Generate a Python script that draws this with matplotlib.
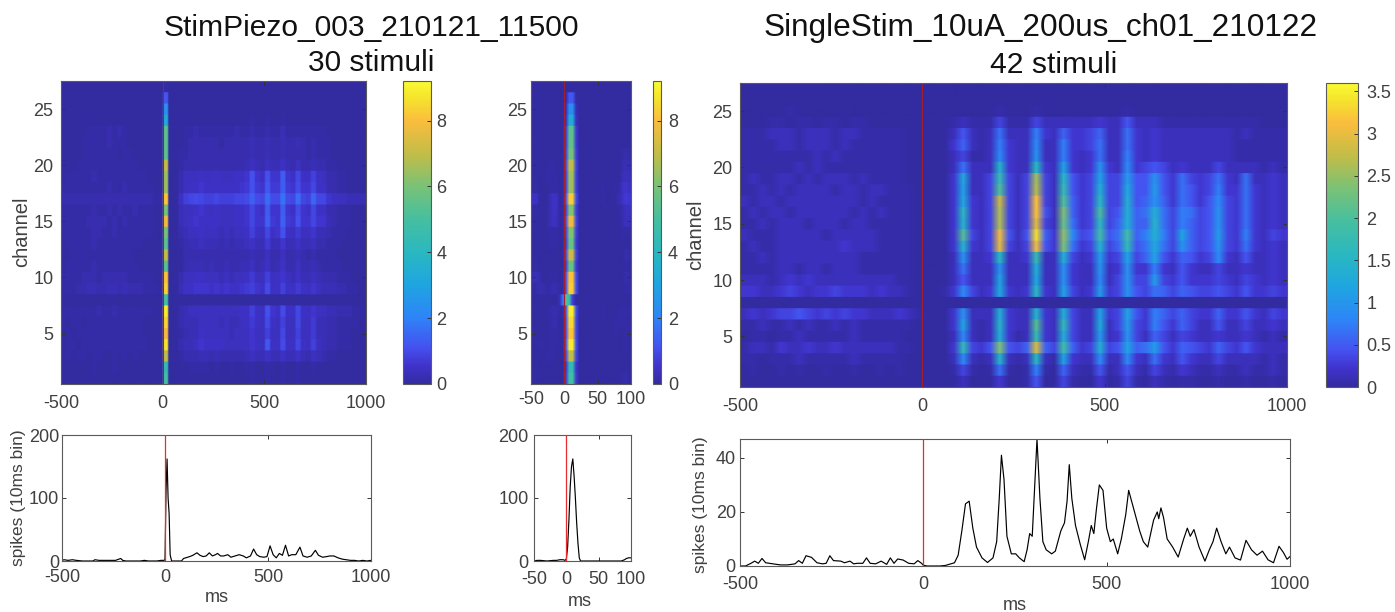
import numpy as np
import matplotlib
matplotlib.use("Agg")
import matplotlib.pyplot as plt
from matplotlib.colors import LinearSegmentedColormap

plt.rcParams['font.family'] = ['Liberation Sans', 'DejaVu Sans']
plt.rcParams['axes.unicode_minus'] = False

TITLE_LEFT = ["StimPiezo_003_210121_11500", "30 stimuli"]
TITLE_RIGHT = ["SingleStim_10uA_200us_ch01_210122", "42 stimuli"]

# Heatmap cells, in tenths of spikes above a faint floor, channel 1 first. 25 ms columns from -500 to 1000.
HEAT_LEFT = [
[1,1,1,1,1,1,1,1,1,1,1,1,1,1,1,1,1,1,1,1, 50, 0,0,1,1,1,1,1,1,1,1,1,1,1,1,1,1,2,1,1,2,1,1,2,1,1,2,1,1,1,1,1,1,1,1,1,1,1,1],
[1,1,1,1,1,1,2,1,1,1,2,1,1,1,1,1,1,1,1,1, 45, 0,0,1,1,2,2,2,2,1,2,1,1,2,1,1,2,2,1,1,2,2,1,2,1,1,2,1,1,2,1,1,1,1,1,1,1,1,1],
[1,2,1,2,2,1,2,2,1,1,2,1,2,1,2,1,1,1,1,1, 70, 0,0,2,3,3,3,4,4,3,4,3,3,3,3,3,4,5,4,4,6,4,4,6,4,4,6,4,3,5,4,3,2,2,1,1,1,1,1,1],
[1,2,2,1,2,2,2,2,2,2,2,2,2,2,2,2,2,1,1,1, 88, 0,0,3,4,4,5,7,6,6,6,6,5,5,5,5,5,7,6,5,13,6,6,11,6,6,10,6,5,9,5,4,3,3,2,2,2,1,1,1],
[1,2,1,2,2,2,2,2,2,2,2,2,2,2,2,2,1,1,1,1, 80, 0,0,2,3,4,4,6,5,5,5,5,5,4,5,5,5,7,5,5,9,5,5,10,5,5,9,5,5,8,4,4,3,3,2,2,2,1,1,1],
[2,1,2,2,1,2,2,2,2,2,2,2,2,2,2,2,1,1,1,1, 85, 0,0,3,4,4,4,5,5,5,5,4,5,4,4,5,6,8,6,5,11,6,5,9,5,5,10,5,5,8,4,4,3,3,2,2,2,2,1,1],
[2,2,2,2,2,2,2,3,2,2,3,2,2,2,2,2,2,2,1,1, 90, 0,0,3,4,5,5,5,5,5,5,5,5,5,5,6,6,9,6,5,12,7,6,11,6,6,10,6,5,7,5,5,4,4,3,3,3,2,2,1],
[1,1,1,1,1,1,1,1,1,1,1,1,1,1,1,1,1,1,1,1, 50, 1,1,1,1,1,1,1,1,1,1,1,1,1,1,1,1,1,1,1,1,1,1,1,1,1,1,1,1,1,1,1,1,1,1,1,1,1,1,1],
[2,2,2,3,3,4,4,3,3,4,4,3,4,3,3,3,2,2,2,1, 85, 0,0,4,6,6,7,7,7,6,7,6,7,6,6,7,8,9,7,6,11,6,6,9,6,6,8,6,5,7,5,4,4,4,3,3,2,2,1,1],
[2,2,2,2,3,3,3,2,3,3,3,3,3,2,2,2,2,2,1,1, 82, 0,0,3,5,5,6,6,5,5,5,4,5,4,5,5,6,8,5,5,9,5,6,7,5,4,6,4,4,5,4,3,3,3,2,2,2,1,1,1],
[1,2,2,2,2,2,3,2,2,2,2,2,2,2,2,1,1,1,1,1, 55, 0,0,1,3,4,4,4,3,4,3,3,4,3,3,4,4,5,3,4,6,3,4,6,3,3,5,3,3,4,3,2,2,2,2,1,1,1,1,1],
[1,1,2,2,2,2,2,2,2,2,2,2,2,2,1,1,1,1,1,1, 70, 0,0,1,3,3,3,3,3,3,3,3,3,3,3,3,3,4,3,3,5,3,3,5,3,3,4,3,2,3,2,2,2,2,1,1,1,1,1,1],
[1,2,2,2,2,2,3,2,2,2,2,2,2,2,2,2,1,1,1,1, 55, 0,0,2,3,4,4,5,4,4,4,3,4,3,4,4,5,6,4,4,8,4,4,7,4,4,6,4,4,5,3,3,2,2,2,1,1,1,1,1],
[2,2,2,2,2,2,3,3,2,2,3,2,2,2,2,2,2,2,1,1, 60, 0,0,3,4,5,5,6,5,5,5,4,5,4,5,5,6,9,6,5,10,6,7,12,6,5,8,5,5,7,4,4,3,2,2,2,1,1,1,1],
[2,2,2,2,2,3,3,3,3,2,3,2,3,2,2,2,2,2,1,1, 78, 0,0,4,5,6,7,6,6,6,6,5,5,5,6,6,7,10,7,7,15,8,7,15,8,7,12,7,7,10,7,7,4,3,2,2,2,1,1,1],
[2,2,2,2,2,2,3,2,2,3,2,3,2,2,3,2,2,2,1,1, 60, 0,0,4,5,5,6,7,6,5,6,5,5,5,6,6,7,10,7,6,14,7,7,14,7,6,11,7,6,10,6,6,3,3,2,2,2,1,1,1],
[3,3,3,3,3,3,3,3,3,3,3,3,3,3,3,3,3,3,2,2, 83, 0,0,6,9,10,11,10,9,9,10,9,9,9,10,10,11,15,11,10,17,11,11,18,11,10,17,10,9,16,10,10,7,6,5,5,4,4,4,4],
[2,2,2,2,2,2,2,2,2,3,2,2,3,2,2,2,2,2,1,1, 65, 0,0,3,5,6,6,7,6,6,6,6,6,6,6,7,8,12,8,7,13,8,8,14,8,7,11,7,7,10,6,6,3,3,2,2,1,1,1,1],
[1,2,2,2,2,2,3,2,2,2,2,2,2,2,2,2,2,1,1,1, 65, 0,0,3,5,5,5,6,5,5,6,5,5,5,6,6,7,12,7,6,12,7,7,14,7,6,10,6,6,9,6,5,3,3,2,2,1,1,1,1],
[1,1,1,2,2,2,2,2,2,2,2,2,2,2,2,1,1,1,1,1, 70, 0,0,2,3,3,3,3,3,3,3,3,3,3,3,3,4,5,4,3,5,4,4,6,4,3,5,3,3,4,3,3,2,2,1,1,1,1,1,1],
[1,1,1,1,2,2,2,2,2,2,2,1,2,2,1,1,1,1,1,1, 55, 0,0,2,2,3,3,3,3,3,3,3,3,3,3,3,3,4,3,3,4,3,3,4,3,3,3,3,2,3,2,2,2,1,1,1,1,1,1,1],
[1,1,1,1,2,2,2,2,2,3,2,2,2,1,1,1,1,1,1,1, 55, 0,0,1,2,3,3,3,3,3,3,2,3,3,3,3,3,4,3,3,4,3,3,4,3,3,4,3,2,3,2,2,2,1,1,1,1,1,1,1],
[1,1,1,1,1,2,2,2,2,3,2,3,2,1,1,1,1,1,1,1, 55, 0,0,1,2,2,3,2,2,2,2,2,2,2,3,2,2,3,2,2,3,2,2,4,2,2,2,2,2,2,2,2,1,1,1,1,1,1,1,1],
[1,1,1,1,1,1,1,1,1,1,1,1,1,1,1,1,1,1,1,1, 33, 0,0,1,1,1,1,1,1,1,1,1,1,1,1,1,1,2,1,1,2,1,1,2,1,1,1,1,1,1,1,1,1,1,1,1,1,1,1,1],
[1,1,1,1,1,1,1,1,1,1,1,1,1,1,1,1,1,1,1,1, 25, 1,1,1,1,1,1,1,1,1,1,1,1,1,1,1,1,1,1,1,1,1,1,1,1,1,1,1,1,1,1,1,1,1,1,1,1,1,1,1],
[1,1,1,1,1,1,1,1,1,1,1,1,1,1,1,1,1,1,1,1, 13, 1,1,1,1,1,1,1,1,1,1,1,1,1,1,1,1,1,1,1,1,1,1,1,1,1,1,1,1,1,1,1,1,1,1,1,1,1,1,1],
[1,1,1,1,1,1,1,1,1,1,1,1,1,1,1,1,1,1,1,1, 2, 1,1,1,1,1,1,1,1,1,1,1,1,1,1,1,1,1,1,1,1,1,1,1,1,1,1,1,1,1,1,1,1,1,1,1,1,1,1,1],
]

# Same units, channel 1 first. 5 ms columns from -50 to 100.
HEAT_MID = [
[1,1,1,1,1,1,1,1,1,1, 8,50,50,8, 1,1,1,1,1,1,1,1,1,1,1,1,1,2,3,1],
[1,1,1,1,1,1,1,1,1,1, 7,45,45,7, 1,1,1,1,1,1,1,1,1,1,1,1,1,1,1,1],
[1,1,1,1,2,2,2,1,1,1, 10,70,70,10, 1,1,1,1,1,1,1,1,1,1,1,1,1,1,1,1],
[1,1,2,2,1,1,2,2,1,1, 12,90,90,12, 1,1,1,1,1,1,1,1,1,1,1,1,1,1,2,1],
[1,1,1,1,1,2,2,2,1,1, 11,82,82,11, 1,1,1,1,1,1,1,1,1,1,1,2,1,1,2,1],
[1,1,1,1,1,1,3,3,1,1, 11,86,86,11, 1,1,1,1,1,1,1,1,1,1,1,2,2,2,2,1],
[1,1,1,1,1,2,3,3,2,1, 12,90,90,12, 1,1,1,1,1,1,1,2,1,1,1,1,2,2,2,2],
[1,1,1,1,1,1,1,1,3,16, 55,45,8,1, 1,1,1,1,1,1,1,1,1,1,1,1,1,1,1,1],
[2,2,3,3,2,2,3,3,2,1, 12,84,84,12, 1,1,1,1,1,1,1,1,1,1,1,1,1,1,2,2],
[3,4,3,1,1,1,2,2,1,1, 12,82,82,12, 1,1,1,1,1,1,1,1,1,1,1,1,1,1,3,2],
[1,2,1,1,1,1,1,1,1,1, 8,58,58,8, 1,1,1,1,1,1,1,1,1,1,1,1,1,1,2,1],
[1,1,1,1,1,1,1,1,1,1, 10,72,72,10, 1,1,1,1,1,1,1,1,1,1,1,1,1,1,3,2],
[1,1,1,1,1,2,2,2,1,1, 8,58,58,8, 1,1,1,1,1,1,1,1,1,1,1,1,1,1,1,1],
[1,1,1,1,1,2,2,2,1,1, 9,62,62,9, 1,1,1,1,1,1,1,1,1,1,1,1,1,2,2,2],
[1,1,1,1,1,3,5,5,2,1, 11,78,78,11, 1,1,1,1,1,1,1,1,1,1,1,1,1,3,5,4],
[2,2,1,1,1,3,5,6,2,1, 9,62,62,9, 1,1,1,1,1,1,1,1,1,1,1,1,2,3,5,5],
[6,6,2,1,1,3,6,6,2,1, 12,84,84,12, 2,1,1,1,1,1,1,2,1,1,1,2,3,6,8,7],
[1,2,1,1,1,1,2,2,1,1, 9,66,66,9, 1,1,1,1,1,1,1,2,1,1,1,2,2,6,7,5],
[1,1,1,1,2,2,2,2,1,1, 9,66,66,9, 1,1,1,1,1,1,1,1,1,1,1,1,1,4,5,4],
[1,1,1,1,1,2,2,1,1,1, 10,70,70,10, 1,1,1,1,1,1,1,1,1,1,1,1,1,3,4,3],
[1,1,1,1,1,1,1,1,1,1, 9,60,60,9, 1,1,1,1,1,1,1,1,1,1,1,1,1,2,3,2],
[1,1,1,1,1,1,1,1,1,1, 8,56,56,8, 1,1,1,1,1,1,1,1,1,1,1,1,1,1,1,1],
[1,1,1,1,1,1,1,1,1,1, 8,55,55,8, 1,1,1,1,1,1,1,1,1,1,1,1,1,1,1,1],
[1,1,1,1,1,1,1,1,1,1, 5,34,34,5, 1,1,1,1,1,1,1,1,1,1,1,1,1,1,1,1],
[1,1,1,1,1,1,1,1,1,1, 4,24,24,4, 1,1,1,1,1,1,1,1,1,1,1,1,1,1,1,1],
[1,1,1,1,1,1,1,1,1,1, 2,13,13,2, 1,1,1,1,1,1,1,1,1,1,1,1,1,1,1,1],
[1,1,1,1,1,1,1,1,1,1, 1,1,1,1, 1,1,1,1,1,1,1,1,1,1,1,1,1,1,1,1],
]

# Same units, channel 1 first. 25 ms columns from -500 to 1000.
HEAT_RIGHT = [
[1,1,1,1,1,1,1,1,1,1,1,1,1,1,1,1,1,1,1,1, 0,0,1,1,3,1,1,1,4,1,1,2,6,1,1,5,2,1,1,4,1,2,5,2,1,3,2,1,2,2,1,1,2,1,1,2,1,1,2,1],
[1,2,1,1,2,1,2,1,1,2,1,1,2,1,1,2,1,2,1,1, 0,0,1,2,5,2,1,2,8,2,1,2,9,2,1,7,3,2,2,6,2,3,6,3,2,5,3,2,4,3,2,2,3,2,2,3,2,2,3,2],
[2,2,1,2,2,2,3,2,2,2,2,2,3,2,2,2,2,2,1,1, 0,0,1,3,10,3,2,3,16,3,2,3,17,3,2,13,4,3,3,10,3,3,10,4,3,8,4,3,6,4,3,3,5,3,3,3,3,2,3,2],
[2,3,3,2,4,3,3,4,3,3,4,3,3,3,3,3,3,2,2,1, 0,0,1,4,18,5,4,6,25,6,5,7,30,7,5,20,7,4,5,15,5,6,13,7,8,12,6,4,7,6,5,4,7,5,4,6,4,3,3,3],
[1,2,2,1,2,2,3,2,2,2,2,2,3,2,2,2,2,2,1,1, 0,0,1,3,10,3,2,3,15,4,2,3,19,4,3,15,5,3,3,12,3,4,11,5,3,7,5,3,5,4,3,3,4,3,3,4,3,2,3,2],
[2,2,3,2,2,3,2,3,2,2,3,2,3,2,2,2,2,2,2,1, 0,0,1,4,13,3,2,3,16,4,3,3,22,4,3,18,5,3,3,14,3,5,12,5,4,9,6,4,7,5,3,3,6,3,3,5,3,3,4,3],
[3,4,3,4,5,5,6,5,4,5,4,5,4,4,3,3,3,4,3,2, 0,0,1,4,11,3,3,3,15,4,3,3,16,4,3,15,5,3,3,13,4,5,13,6,4,9,7,5,7,5,4,4,7,4,4,6,4,3,5,4],
[1,1,1,1,1,1,1,1,1,1,1,1,1,1,1,1,1,1,1,1, 0,0,0,0,1,1,1,1,1,1,1,1,1,1,1,1,1,1,1,1,1,1,1,1,1,1,1,1,1,1,1,1,1,1,1,1,1,1,1,1],
[4,4,3,3,4,5,4,3,4,4,5,4,4,4,3,4,3,3,2,1, 0,0,2,4,10,5,3,4,14,4,3,4,17,4,3,13,5,3,4,12,4,5,11,6,5,8,7,5,7,6,5,5,6,5,4,6,4,4,5,4],
[3,3,3,2,3,4,3,4,3,3,3,3,3,3,3,3,3,2,2,1, 0,0,1,3,6,3,3,3,13,3,3,3,14,3,3,11,4,3,3,10,3,5,11,5,5,12,5,4,6,4,4,4,5,4,3,5,4,3,4,3],
[2,2,2,2,3,3,2,3,3,2,3,3,3,2,2,2,2,2,2,1, 0,0,1,3,8,3,3,3,11,3,3,3,15,3,3,11,4,3,3,11,3,4,11,4,4,9,4,3,6,4,3,3,5,3,3,4,3,3,4,3],
[2,2,3,2,3,3,3,3,3,3,3,3,3,2,2,2,2,2,2,1, 0,0,1,3,11,3,3,4,17,3,3,4,19,3,3,15,5,3,4,12,4,5,13,5,7,13,6,4,7,6,4,5,10,4,3,6,3,3,4,3],
[2,3,2,2,3,3,3,3,3,3,3,4,3,3,3,2,2,2,2,1, 0,0,1,4,16,4,3,5,31,5,3,5,32,6,4,25,8,4,5,16,5,7,18,6,8,14,8,5,11,7,5,6,11,5,4,8,4,3,4,3],
[3,2,2,2,3,3,3,3,3,2,3,3,3,3,3,2,2,2,2,1, 0,0,1,4,22,5,3,5,32,6,3,6,35,7,4,26,10,5,6,20,6,8,20,7,9,15,9,5,13,7,5,6,12,5,4,9,4,3,5,4],
[2,2,3,2,3,3,3,2,3,3,3,2,3,3,2,2,2,2,2,1, 0,0,1,4,16,4,3,5,28,5,3,5,31,5,3,24,8,4,5,18,5,7,15,7,7,16,8,5,9,7,5,6,11,5,4,8,4,3,4,3],
[2,3,2,3,3,2,3,3,3,3,3,3,2,3,2,3,2,2,2,1, 0,0,1,4,17,4,3,5,28,5,3,5,33,6,3,25,7,4,5,21,5,6,15,7,8,15,8,5,9,8,5,6,11,5,4,8,4,3,4,3],
[3,2,3,3,2,3,3,3,3,3,3,3,3,2,3,2,2,2,2,1, 0,0,1,4,14,4,3,5,29,5,3,5,33,5,3,22,7,4,5,17,5,5,15,6,7,11,7,4,8,6,4,6,10,5,4,8,4,3,4,3],
[2,2,3,2,3,2,3,3,3,3,2,3,3,2,3,3,2,2,2,1, 0,0,1,4,13,3,3,5,22,5,3,5,28,5,3,19,6,4,5,15,5,5,14,6,6,12,6,4,8,6,4,5,9,4,4,8,4,3,4,3],
[2,3,2,2,3,3,2,3,2,3,3,3,2,3,2,2,2,2,1,1, 0,0,1,4,14,3,3,5,19,5,3,5,27,5,3,17,6,4,5,13,5,5,12,6,6,11,6,4,8,5,4,5,8,4,3,8,3,3,4,3],
[2,2,2,2,2,2,3,2,3,2,2,2,2,2,2,2,2,2,1,1, 0,0,1,3,8,3,3,3,16,4,3,3,17,4,3,13,4,3,4,11,4,3,10,4,5,6,5,3,4,3,3,3,5,3,3,3,3,2,3,2],
[2,2,2,2,2,2,2,2,3,2,3,2,2,2,2,2,2,2,1,1, 0,0,1,3,5,2,2,3,10,4,3,3,11,3,3,9,4,3,4,8,3,3,9,4,3,4,3,3,3,3,3,3,3,3,2,2,2,2,2,2],
[2,2,2,2,3,3,2,3,3,3,2,3,2,2,2,2,2,2,1,1, 0,0,1,4,7,3,2,3,9,4,3,3,10,3,3,9,4,4,5,8,3,3,8,4,3,4,3,3,3,3,3,3,3,3,2,2,2,2,2,2],
[2,2,2,3,3,3,2,3,3,3,2,3,3,2,2,2,2,2,1,1, 0,0,1,3,6,3,2,3,8,3,3,3,9,4,3,7,4,4,5,7,3,3,8,4,3,4,3,3,3,3,3,3,3,3,2,3,2,2,2,2],
[1,1,1,2,2,1,2,2,1,2,2,1,2,2,1,1,1,1,1,1, 0,0,1,2,3,2,2,2,5,2,2,2,5,3,3,3,3,3,3,4,3,3,6,3,3,3,2,2,2,2,2,2,2,2,2,2,2,1,1,1],
[1,1,1,1,1,2,1,1,1,1,1,1,1,1,1,1,1,1,1,1, 0,0,1,1,1,1,1,1,2,1,1,1,2,1,1,1,1,1,1,1,1,1,2,1,1,1,1,1,1,1,1,1,1,1,1,1,1,1,1,1],
[1,1,1,1,1,1,1,1,1,1,1,1,1,1,1,1,1,1,1,1, 1,1,1,1,1,1,1,1,1,1,1,1,1,1,1,1,1,1,1,1,1,1,1,1,1,1,1,1,1,1,1,1,1,1,1,1,1,1,1,1],
[1,1,1,1,1,1,1,1,1,1,1,1,1,1,1,1,1,1,1,1, 0,1,1,1,1,1,1,1,1,1,1,1,1,1,1,1,1,1,1,1,1,1,1,1,1,1,1,1,1,1,1,1,1,1,1,1,1,1,1,1],
]

PSTH_LEFT_T = [-500,-490,-470,-450,-430,-400,-350,-340,-320,-300,-280,-260,-240,-215,-205,-190,-170,-150,-120,-100,-80,-60,-40,-20,-5,
    0,5,10,15,20,25,32,50,80,90,100,120,135,155,170,185,200,215,230,245,255,270,285,305,320,340,360,380,395,415,430,445,460,480,495,510,525,540,555,570,585,600,615,635,655,670,690,710,730,745,765,785,800,820,840,860,880,900,920,940,960,980,1000]
PSTH_LEFT_Y = [1,2,1,2,1,0,0,2,1,1,1,1,1,4,1,0,0,0,0,1,0,0,0,1,1,
    2,110,162,100,75,10,0,0,0,4,5,7,9,13,9,7,8,13,8,10,12,8,8,10,6,8,10,8,5,8,19,10,7,6,7,24,10,5,12,9,25,8,10,10,22,8,6,8,17,9,6,7,8,8,5,3,2,1,1,0,1,0,1]

PSTH_MID_T = [-50,-45,-40,-30,-20,-15,-10,-5,-2,0,2,4,6,8,10,12,14,16,18,20,22,30,50,70,85,90,93,96,100]
PSTH_MID_Y = [0,1,1,0,1,1,2,2,1,3,22,65,118,150,162,135,100,60,28,5,0,0,0,0,0,2,4,5,5]

PSTH_RIGHT_T = [-500,-485,-470,-460,-450,-440,-430,-410,-390,-370,-350,-340,-330,-320,-305,-290,-275,-265,-255,-245,-225,-215,-200,-190,-180,-165,-155,-145,-130,-115,-100,-90,-80,-70,-55,-40,-25,-15,-5,
    0,10,20,30,45,60,75,85,95,105,115,125,135,145,160,175,190,200,207,213,220,228,240,252,262,275,283,290,297,303,310,318,326,335,350,360,375,385,392,398,405,415,428,440,450,458,465,472,480,490,500,510,518,530,540,552,560,570,580,590,600,612,628,638,642,648,655,665,680,695,710,720,728,738,752,768,780,790,800,812,825,835,850,865,880,895,910,925,940,955,970,982,992,1000]
PSTH_RIGHT_Y = [0,0,1,1.8,1,2.8,1.2,0.8,0.4,0.4,0.8,2,1,3.8,3.2,1.2,0.8,1,3.8,2,1.8,1.2,1.8,0.8,1,1,3,1,0.8,1.8,0.6,3,1,2.6,2.2,1,0.8,2,1,
    0.3,0,0,0,0,0.2,0.8,1.2,4,13,23,24,14,7,3,1.3,3,9,25,41,32,11,4.5,4.5,3,1.6,6,12,11,28,47,25,9,6,4.5,5.5,13,16,24,37.5,25,15,8,2.3,9,15,12,21,30,28,14,9,10,4.5,10,19,28,23,18,13,9,7,17,20,17.5,21.5,18,10,7,3.3,10,14,11,13.5,7,1.8,6,9,14,9,4.5,7,3,2.2,9.5,6,4,5.5,2.3,1.2,7.3,5,2.5,3.5]

LEFT_RANGE = (-500, 1000)
MID_RANGE = (-50, 100)
CHANNEL_TICKS = [5, 10, 15, 20, 25]
LEFT_XTICKS = [-500, 0, 500, 1000]
MID_XTICKS = [-50, 0, 50, 100]
CBAR_LEFT_TICKS = [0, 2, 4, 6, 8]
CBAR_RIGHT_TICKS = [0, 0.5, 1, 1.5, 2, 2.5, 3, 3.5]
CBAR_RIGHT_LABELS = ['0', '0.5', '1', '1.5', '2', '2.5', '3', '3.5']
PSTH_LEFT_YTICKS = [0, 100, 200]
PSTH_RIGHT_YTICKS = [0, 20, 40]

parula = LinearSegmentedColormap.from_list('parula', [
    (0.00, (.20, .17, .63)), (0.06, (.25, .20, .80)), (0.12, (.27, .32, .94)),
    (0.22, (.18, .52, .97)), (0.33, (.12, .65, .88)), (0.43, (.16, .72, .76)),
    (0.55, (.28, .75, .62)), (0.65, (.47, .76, .47)), (0.76, (.76, .74, .28)),
    (0.87, (.98, .74, .24)), (0.95, (.96, .90, .17)), (1.00, (.98, .98, .20))])

W, H = 1395, 612
fig = plt.figure(figsize=(W / 100, H / 100), dpi=100)
INK = '#404040'
EDGE = '#5a5a5a'
FS = 13


def px_axes(x0, y0, x1, y1):
    return fig.add_axes([x0 / W, 1 - y1 / H, (x1 - x0) / W, (y1 - y0) / H])


def style(ax, xpad, ypad):
    for s in ax.spines.values():
        s.set_color(EDGE)
        s.set_linewidth(0.8)
    ax.tick_params(direction='in', top=True, right=True, length=3, width=0.7,
                   color='#333333', labelcolor=INK, labelsize=FS)
    ax.tick_params(axis='x', pad=xpad)
    ax.tick_params(axis='y', pad=ypad)


def grid_of(cells, floor):
    n = max(len(r) for r in cells)
    m = np.array([list(r) + [r[-1]] * (n - len(r)) for r in cells], dtype=float)
    return np.clip(m - floor, 0, None) / 10.0


def heat(box, cbox, cells, xrange, xticks, vmax, cticks, clabels=None, floor=1.0,
         widen=1, xpad=8, ypad=5.5, cpad=4):
    ax = px_axes(*box)
    m = np.repeat(np.repeat(grid_of(cells, floor), 12, axis=0), widen, axis=1)
    im = ax.imshow(m, origin='lower', aspect='auto',
                   extent=(xrange[0], xrange[1], 0.5, 27.5), cmap=parula,
                   vmin=0, vmax=vmax, interpolation='bilinear')
    ax.axvline(0, color='#a02030', lw=0.8)
    ax.set_xticks(xticks)
    ax.set_yticks(CHANNEL_TICKS)
    style(ax, xpad, ypad)
    cax = px_axes(*cbox)
    cb = fig.colorbar(im, cax=cax)
    cb.set_ticks(cticks)
    if clabels:
        cb.set_ticklabels(clabels)
    cb.outline.set_edgecolor(EDGE)
    cb.outline.set_linewidth(0.8)
    cax.tick_params(direction='in', length=3, width=0.7, color='#333333',
                    labelcolor=INK, labelsize=FS, pad=cpad)
    return ax


def psth(box, t, y, xrange, xticks, ylim, yticks, xpad=6, ypad=2):
    ax = px_axes(*box)
    ax.plot(t, y, color='black', lw=0.85, zorder=2)
    ax.axvline(0, color='#e82c2c', lw=0.9, zorder=3)
    ax.set_xlim(*xrange)
    ax.set_ylim(*ylim)
    ax.set_xticks(xticks)
    ax.set_yticks(yticks)
    style(ax, xpad, ypad)
    return ax


heat((61, 81, 366, 384), (403, 81, 431, 384), HEAT_LEFT, LEFT_RANGE, LEFT_XTICKS, 9.2,
     CBAR_LEFT_TICKS, widen=3)
heat((531, 81, 631, 384), (653, 81, 661, 384), HEAT_MID, MID_RANGE, MID_XTICKS, 9.2,
     CBAR_LEFT_TICKS, xpad=5, ypad=2.5, cpad=5)
heat((740, 83, 1287, 387), (1326, 83, 1358, 387), HEAT_RIGHT, LEFT_RANGE, LEFT_XTICKS, 3.6,
     CBAR_RIGHT_TICKS, CBAR_RIGHT_LABELS, floor=1.5, cpad=6)

psth((62, 435, 371, 561), PSTH_LEFT_T, PSTH_LEFT_Y, LEFT_RANGE, LEFT_XTICKS, (0, 200), PSTH_LEFT_YTICKS)
psth((534, 435, 631, 561), PSTH_MID_T, PSTH_MID_Y, MID_RANGE, MID_XTICKS, (0, 200), PSTH_LEFT_YTICKS, xpad=7, ypad=4)
psth((740, 439, 1290, 566), PSTH_RIGHT_T, PSTH_RIGHT_Y, LEFT_RANGE, LEFT_XTICKS, (0, 47), PSTH_RIGHT_YTICKS, xpad=7, ypad=3)


def label(x, y, s, size=FS, color=INK, rotation=0):
    fig.text(x / W, 1 - y / H, s, fontsize=size, color=color, rotation=rotation,
             ha='center', va='center')


label(371, 28, TITLE_LEFT[0], size=21.6, color='#111111')
label(371, 63, TITLE_LEFT[1], size=21.5, color='#111111')
label(1041, 28, TITLE_RIGHT[0], size=22.7, color='#111111')
label(1054, 65, TITLE_RIGHT[1], size=21.7, color='#111111')
label(22, 232, 'channel', size=14.5, rotation=90)
label(696, 235, 'channel', size=14.5, rotation=90)
label(19, 498, 'spikes (10ms bin)', size=12.5, rotation=90)
label(701, 505, 'spikes (10ms bin)', size=12.5, rotation=90)
label(217, 597, 'ms')
label(580, 601, 'ms')
label(1015, 605, 'ms')

fig.savefig('out.png', dpi=100)
